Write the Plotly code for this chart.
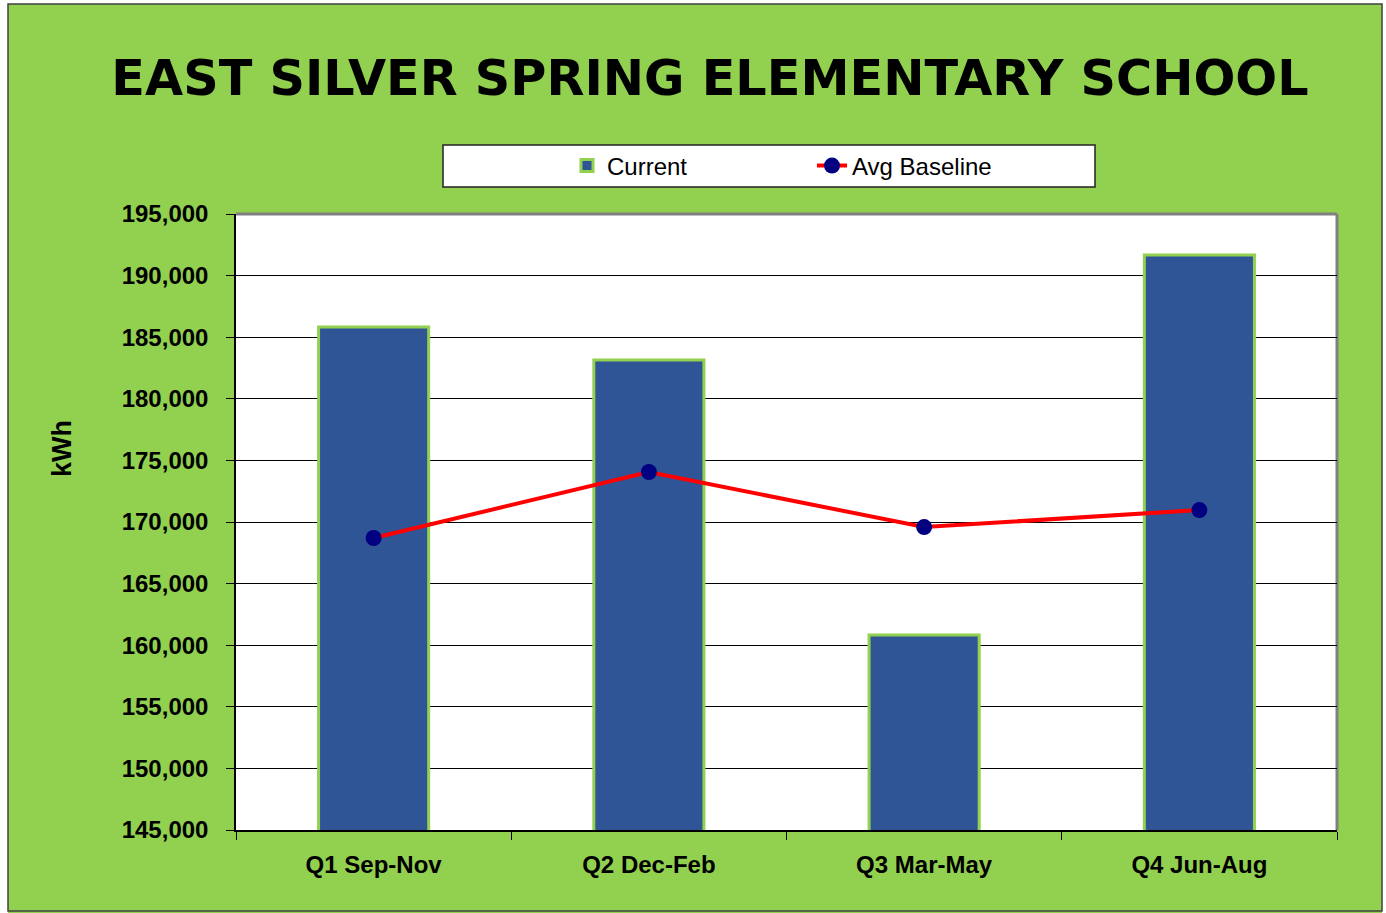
import plotly.graph_objects as go

categories = ["Q1 Sep-Nov", "Q2 Dec-Feb", "Q3 Mar-May", "Q4 Jun-Aug"]
current = [185830, 183150, 160830, 191670]
avg_baseline = [168700, 174060, 169590, 170970]
y_ticks = list(range(145000, 195001, 5000))

W, H = 1386, 913
ML, MR, MT, MB = 236, 49, 214, 83
PW, PH = W - ML - MR, H - MT - MB

def px_x(x):
    return (x - ML) / PW

def px_y(y):
    return (H - MB - y) / PH

GREEN = "#92D050"
SANS = "Liberation Sans, Arial, sans-serif"

fig = go.Figure()
fig.add_trace(go.Bar(
    x=categories, y=current, name="Current",
    marker=dict(color="#2F5597", line=dict(color=GREEN, width=3)),
    width=0.4,
))
fig.add_trace(go.Scatter(
    x=categories, y=avg_baseline, name="Avg Baseline", mode="lines+markers",
    line=dict(color="#FF0000", width=4),
    marker=dict(color="#000080", size=16),
))

shapes = [
    # white strips outside the outer border
    dict(type="rect", xref="paper", yref="paper", x0=px_x(0), x1=px_x(8), y0=px_y(H), y1=px_y(0),
         fillcolor="white", line=dict(width=0), layer="below"),
    dict(type="rect", xref="paper", yref="paper", x0=px_x(0), x1=px_x(W), y0=px_y(4), y1=px_y(0),
         fillcolor="white", line=dict(width=0), layer="below"),
    dict(type="rect", xref="paper", yref="paper", x0=px_x(1382), x1=px_x(W), y0=px_y(H), y1=px_y(0),
         fillcolor="white", line=dict(width=0), layer="below"),
    # outer border
    dict(type="rect", xref="paper", yref="paper", x0=px_x(8), x1=px_x(1382), y0=px_y(911), y1=px_y(4),
         line=dict(color="#404040", width=1.5), layer="below"),
    # legend box
    dict(type="rect", xref="paper", yref="paper", x0=px_x(443), x1=px_x(1095), y0=px_y(187), y1=px_y(145),
         fillcolor="white", line=dict(color="#222222", width=1.5), layer="below"),
    # plot area top/right gray border
    dict(type="line", xref="paper", yref="paper", x0=0, x1=1, y0=1, y1=1,
         line=dict(color="#808080", width=3), layer="below"),
    dict(type="line", xref="paper", yref="paper", x0=1, x1=1, y0=0, y1=1,
         line=dict(color="#808080", width=3), layer="below"),
]

annotations = [
    dict(text="<b>kWh</b>", xref="paper", yref="paper", x=px_x(62), y=px_y(449),
         xanchor="center", yanchor="middle", textangle=-90, showarrow=False,
         font=dict(family=SANS, size=27, color="black")),
]

fig.update_layout(
    width=W, height=H,
    margin=dict(l=ML, r=MR, t=MT, b=MB, autoexpand=False),
    paper_bgcolor=GREEN, plot_bgcolor="white",
    title=dict(text="<b>EAST SILVER SPRING ELEMENTARY SCHOOL</b>",
               font=dict(family="DejaVu Sans", size=49.3, color="black"),
               x=710 / W, xref="container", xanchor="center",
               y=1 - 78 / H, yref="container", yanchor="middle"),
    legend=dict(orientation="h", x=px_x(812), xanchor="center",
                y=1 - 166 / H, yref="container", yanchor="middle",
                bgcolor="rgba(0,0,0,0)", entrywidth=200,
                font=dict(family=SANS, size=24, color="black"),
                traceorder="normal"),
    showlegend=True,
    shapes=shapes,
    annotations=annotations,
    xaxis=dict(type="category", showline=True, linecolor="black", linewidth=1.5,
               ticks="outside", ticklen=8, tickcolor="black", tickson="boundaries",
               tickfont=dict(family=SANS, size=24, color="black", weight="bold"),
               ticklabelstandoff=12, showgrid=False),
    yaxis=dict(range=[145000, 195000], tickvals=y_ticks,
               ticktext=[f"{v:,}" for v in y_ticks],
               showline=True, linecolor="black", linewidth=1.5,
               ticks="outside", ticklen=8, tickcolor="black",
               showgrid=True, gridcolor="black", gridwidth=1,
               tickfont=dict(family=SANS, size=24, color="black", weight="bold"),
               ticklabelstandoff=13),
)

fig.write_html("out.html", config={"displayModeBar": False},
               post_script="document.body.style.margin='0';")
